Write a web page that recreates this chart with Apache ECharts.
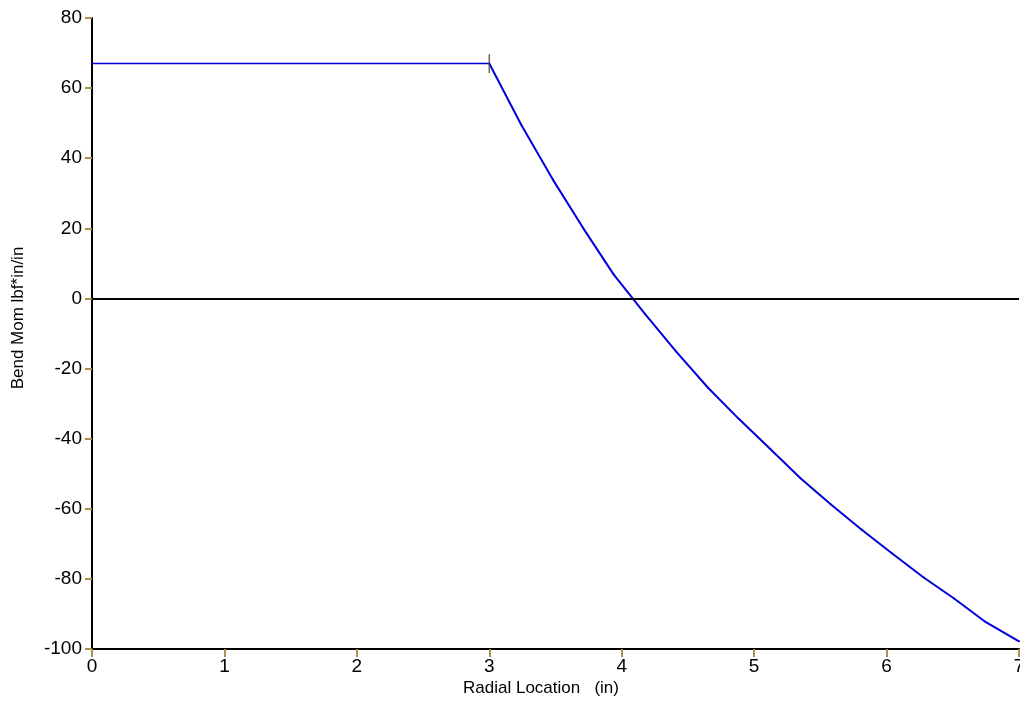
<!DOCTYPE html>
<html><head><meta charset="utf-8">
<script src="https://cdn.jsdelivr.net/npm/echarts@6/dist/echarts.min.js"></script>
<style>html,body{margin:0;padding:0;background:#fff}#c{width:1020px;height:728px}</style>
</head><body><div id="c"></div>
<script>
const xFlat = [0, 3];
const yFlat = [67, 67];
const xCurve = [3, 3.24, 3.48, 3.71, 3.94, 4.18, 4.41, 4.65, 4.88, 5.11, 5.35, 5.58, 5.81, 6.04, 6.28, 6.51, 6.74, 7];
const yCurve = [67, 49.6, 33.9, 20.0, 6.8, -4.6, -15.1, -25.4, -34.2, -42.5, -51.3, -58.8, -65.9, -72.7, -79.6, -85.6, -92.1, -97.8];
const xTicks = [0, 1, 2, 3, 4, 5, 6, 7];
const yTicks = [-100, -80, -60, -40, -20, 0, 20, 40, 60, 80];
const breakPoint = [[3, 67]];
const xName = 'Radial Location   (in)';
const yName = 'Bend Mom lbf*in/in';

const font = 'Liberation Sans, Arial, sans-serif';
const chart = echarts.init(document.getElementById('c'));
chart.setOption({
  animation: false,
  grid: {left: 92, right: 1, top: 18, bottom: 79, outerBoundsMode: 'none', containLabel: false},
  graphic: [
    {type: 'text', x: 541, y: 688,
     style: {text: xName, font: '17px ' + font, fill: '#000', align: 'center', verticalAlign: 'middle'}},
    {type: 'text', x: 18, y: 318, rotation: Math.PI / 2,
     style: {text: yName, font: '17px ' + font, fill: '#000', align: 'center', verticalAlign: 'middle'}}
  ],
  xAxis: {
    type: 'value', min: 0, max: 7, interval: 1,
    axisLine: {onZero: false, lineStyle: {color: '#000', width: 2}},
    axisTick: {length: 8, lineStyle: {color: '#a89050', width: 2}},
    axisLabel: {fontFamily: font, fontSize: 19, color: '#000', margin: 8},
    splitLine: {show: false}
  },
  yAxis: {
    type: 'value', min: -100, max: 80, interval: 20,
    axisLine: {onZero: false, lineStyle: {color: '#000', width: 2}},
    axisTick: {length: 7, lineStyle: {color: '#a89050', width: 2}},
    axisLabel: {fontFamily: font, fontSize: 19, color: '#000', margin: 10},
    splitLine: {show: false}
  },
  series: [
    {type: 'line', data: xFlat.map((x, i) => [x, yFlat[i]]), symbol: 'none',
     lineStyle: {color: '#0000dd', width: 1.5},
     markLine: {silent: true, symbol: 'none', label: {show: false},
       lineStyle: {color: '#000', width: 2, type: 'solid'}, data: [{yAxis: 0}]}},
    {type: 'line', data: xCurve.map((x, i) => [x, yCurve[i]]), symbol: 'circle', symbolSize: 2,
     itemStyle: {color: '#0000dd'}, lineStyle: {color: '#0000dd', width: 2}},
    {type: 'scatter', data: breakPoint, symbol: 'rect', symbolSize: [1.5, 19],
     itemStyle: {color: '#5a3a2a'}, z: 5}
  ]
});
</script></body></html>
